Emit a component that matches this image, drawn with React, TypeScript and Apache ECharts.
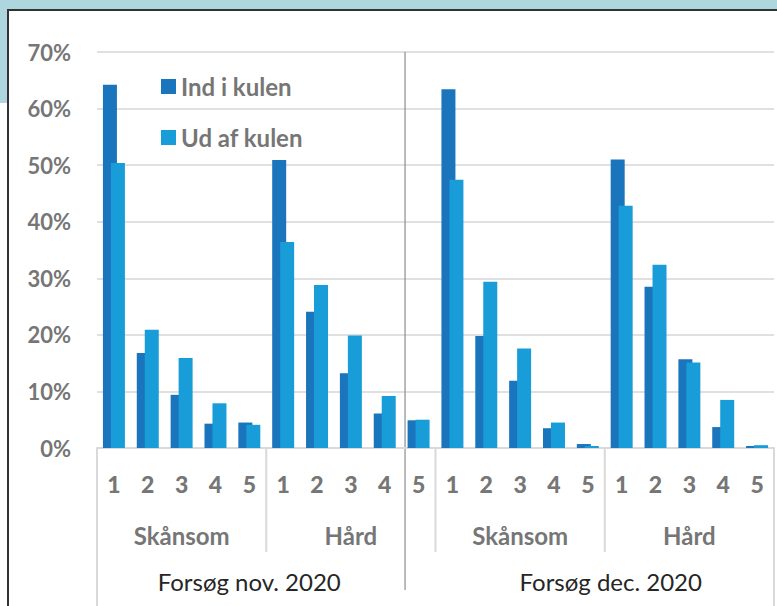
import React, { useEffect, useRef } from "react";
import * as echarts from "echarts";

const trials = ["Forsøg nov. 2020", "Forsøg dec. 2020"];
const treatments = ["Skånsom", "Hård"];
const grades = ["1", "2", "3", "4", "5"];
const seriesNames = ["Ind i kulen", "Ud af kulen"];
const indValues = [64.2, 16.8, 9.4, 4.3, 4.5, 50.9, 24.1, 13.2, 6.1, 4.9, 63.4, 19.8, 11.9, 3.5, 0.7, 51.0, 28.5, 15.7, 3.7, 0.35];
const udValues = [50.4, 20.9, 15.9, 7.9, 4.1, 36.4, 28.8, 19.9, 9.2, 5.0, 47.4, 29.4, 17.6, 4.5, 0.35, 42.8, 32.4, 15.1, 8.5, 0.5];
const yTicks = [0, 10, 20, 30, 40, 50, 60, 70];

const categories: string[] = [];
trials.forEach(() => treatments.forEach(() => grades.forEach((g) => categories.push(g))));

const DARK = "#1b75bc";
const LIGHT = "#189dd9";
const GRAY = "#767676";
const FONT = "Lato, 'Liberation Sans', sans-serif";

export default function App() {
  const ref = useRef<HTMLDivElement>(null);
  useEffect(() => {
    if (!ref.current) return;
    const chart = echarts.init(ref.current, undefined, { renderer: "svg" });
    chart.setOption({
      animation: false,
      backgroundColor: "transparent",
      grid: { left: 97, right: 3, top: 52, bottom: 158, containLabel: false },
      legend: {
        orient: "vertical",
        left: 156,
        top: 69,
        itemWidth: 15,
        itemHeight: 15,
        itemGap: 26,
        itemTextGap: 6,
        icon: "rect",
        data: seriesNames,
        textStyle: { color: GRAY, fontWeight: 700, fontSize: 24, fontFamily: FONT, lineHeight: 25 },
      },
      xAxis: {
        type: "category",
        data: categories,
        axisLine: { show: true, lineStyle: { color: "#d9d9d9", width: 2 } },
        axisTick: { show: false },
        axisLabel: {
          interval: 0,
          margin: 24,
          color: GRAY,
          fontWeight: 900,
          fontSize: 23,
          fontFamily: FONT,
        },
      },
      yAxis: {
        type: "value",
        min: yTicks[0],
        max: yTicks[yTicks.length - 1],
        interval: 10,
        axisLine: { show: false },
        axisTick: { show: false },
        splitLine: { lineStyle: { color: "#e0e0e0", width: 2 } },
        axisLabel: { formatter: "{value}%", color: GRAY, fontWeight: 700, fontSize: 22, fontFamily: FONT, margin: 26 },
      },
      series: [
        { name: seriesNames[0], type: "bar", data: indValues, barWidth: 14, barGap: "-43%", itemStyle: { color: DARK } },
        { name: seriesNames[1], type: "bar", data: udValues, barWidth: 14, barGap: "-43%", itemStyle: { color: LIGHT } },
      ],
    });

    const px = (i: number) => chart.convertToPixel({ xAxisIndex: 0 }, i) as number;
    const py = (v: number) => chart.convertToPixel({ yAxisIndex: 0 }, v) as number;
    const cw = px(1) - px(0);
    const bound = (i: number) => px(0) + (i - 0.5) * cw;
    const y0 = py(0);
    const yTop = py(yTicks[yTicks.length - 1]);
    const n = categories.length;
    const perTrial = treatments.length * grades.length;
    const els: any[] = [];
    const divider = "#d9d9d9";
    [0, n].forEach((i) => {
      els.push({ type: "line", shape: { x1: bound(i), y1: y0, x2: bound(i), y2: 606 }, style: { stroke: divider, lineWidth: 2 } });
    });
    for (let i = grades.length; i < n; i += grades.length) {
      els.push({ type: "line", shape: { x1: bound(i), y1: y0, x2: bound(i), y2: y0 + 104 }, style: { stroke: divider, lineWidth: 2 } });
    }
    trials.forEach((_, t) => {
      treatments.forEach((tr, k) => {
        const s = t * perTrial + k * grades.length;
        const cx = (bound(s) + bound(s + grades.length)) / 2;
        els.push({
          type: "text",
          x: cx,
          y: y0 + 87,
          style: { text: tr, fill: GRAY, font: `bold 24px ${FONT}`, textAlign: "center", textVerticalAlign: "middle" },
        });
      });
    });
    const trialOffsets = [-17, 6];
    trials.forEach((tr, t) => {
      const cx = (bound(t * perTrial) + bound((t + 1) * perTrial)) / 2 + trialOffsets[t];
      els.push({
        type: "text",
        x: cx,
        y: y0 + 133,
        style: { text: tr, fill: "#262626", font: `24px ${FONT}`, textAlign: "center", textVerticalAlign: "middle" },
      });
    });
    const sx = bound(perTrial - 1) + 0.1 * cw;
    els.push({ type: "line", shape: { x1: sx, y1: yTop, x2: sx, y2: 590 }, style: { stroke: "#8c8c8c", lineWidth: 1.2 } });
    chart.setOption({ graphic: { elements: els } });

    return () => chart.dispose();
  }, []);

  return (
    <div style={{ position: "fixed", left: 0, top: 0, width: 777, height: 606, background: "#fff", overflow: "hidden" }}>
      <div style={{ position: "absolute", left: 0, top: 0, width: 777, height: 10, background: "#aed6de" }} />
      <div style={{ position: "absolute", left: 0, top: 0, width: 8, height: 103, background: "#aed6de" }} />
      <div
        style={{
          position: "absolute",
          left: 7,
          top: 9,
          width: 800,
          height: 700,
          borderLeft: "2px solid #333",
          borderTop: "2px solid #333",
          boxSizing: "border-box",
        }}
      />
      <div ref={ref} style={{ position: "absolute", left: 0, top: 0, width: 777, height: 606 }} />
    </div>
  );
}
